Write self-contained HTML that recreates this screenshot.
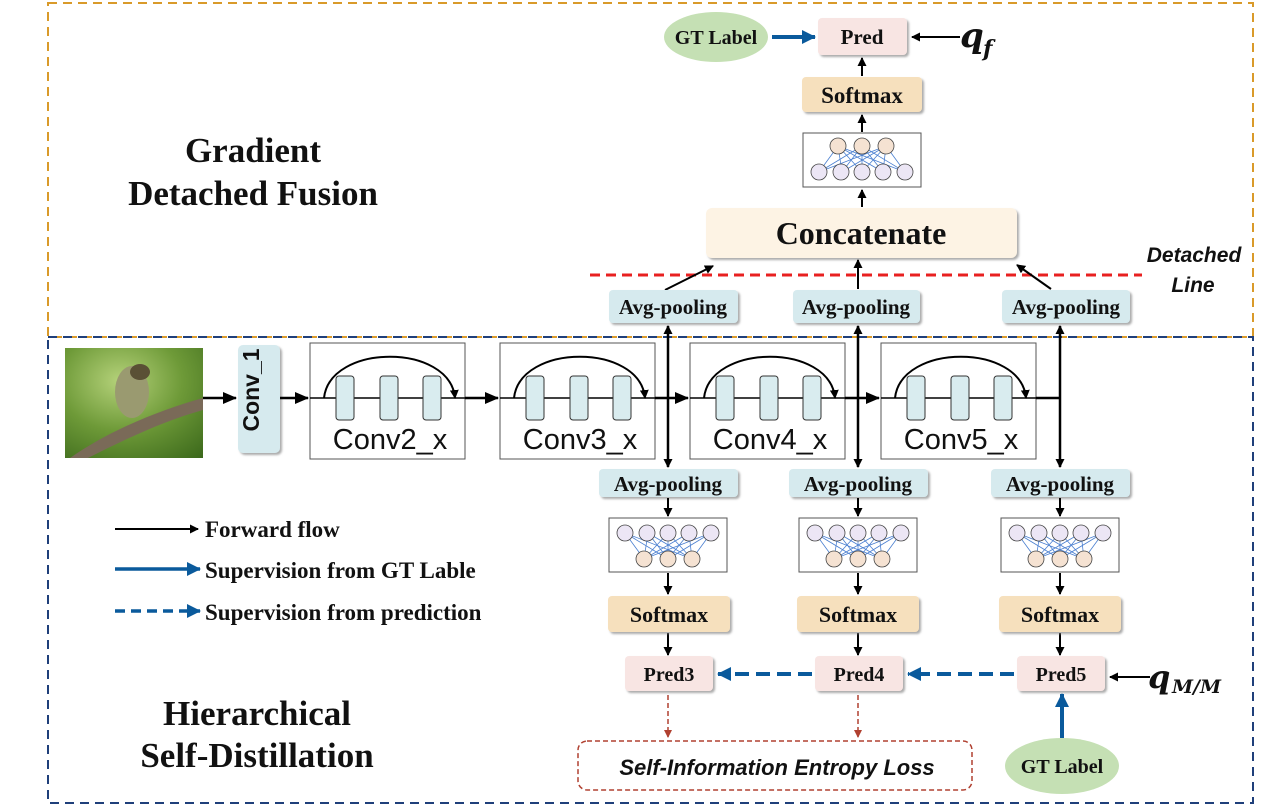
<!DOCTYPE html>
<html><head><meta charset="utf-8"><style>
html,body{margin:0;padding:0;background:#fff;}
svg{display:block;}
.b{font-family:"Liberation Serif",serif;font-weight:bold;fill:#111;}
.s{font-family:"Liberation Sans",sans-serif;fill:#111;}
</style></head><body>
<svg width="1277" height="806" viewBox="0 0 1277 806" xmlns="http://www.w3.org/2000/svg">
<defs>
<marker id="ak" markerWidth="9" markerHeight="9" refX="8" refY="4.5" orient="auto" markerUnits="userSpaceOnUse"><path d="M0,0 L9,4.5 L0,9 z" fill="#000"/></marker>
<marker id="akb" markerWidth="14" markerHeight="12" refX="13" refY="6" orient="auto" markerUnits="userSpaceOnUse"><path d="M0,0 L14,6 L0,12 z" fill="#000"/></marker>
<marker id="ab" markerWidth="14" markerHeight="14" refX="13" refY="7" orient="auto" markerUnits="userSpaceOnUse"><path d="M0,0 L14,7 L0,14 z" fill="#0a5a9c"/></marker>
<marker id="ar" markerWidth="8" markerHeight="8" refX="7" refY="4" orient="auto" markerUnits="userSpaceOnUse"><path d="M0,0 L8,4 L0,8 z" fill="#b04030"/></marker>
<radialGradient id="bg" cx="0.4" cy="0.3" r="0.9"><stop offset="0" stop-color="#b5d27a"/><stop offset="0.5" stop-color="#6e9a38"/><stop offset="1" stop-color="#3d6a1c"/></radialGradient>
<filter id="sh" x="-10%" y="-10%" width="130%" height="140%"><feDropShadow dx="2" dy="2" stdDeviation="1" flood-color="#888" flood-opacity="0.7"/></filter>
<g id="nnb">
<rect x="0" y="0" width="118" height="54" fill="#fff" stroke="#555" stroke-width="1"/>
<g stroke="#4a7fd0" stroke-width="0.8">
<path d="M16,15 L35,41 M16,15 L59,41 M16,15 L83,41 M39,15 L35,41 M39,15 L59,41 M39,15 L83,41 M59,15 L35,41 M59,15 L59,41 M59,15 L83,41 M80,15 L35,41 M80,15 L59,41 M80,15 L83,41 M102,15 L35,41 M102,15 L59,41 M102,15 L83,41"/>
</g>
<g stroke="#444" stroke-width="0.8" fill="#ece6f5"><circle cx="16" cy="15" r="8"/><circle cx="38" cy="15" r="8"/><circle cx="59" cy="15" r="8"/><circle cx="80" cy="15" r="8"/><circle cx="102" cy="15" r="8"/></g>
<g stroke="#444" stroke-width="0.8" fill="#f5e2d2"><circle cx="35" cy="41" r="8"/><circle cx="59" cy="41" r="8"/><circle cx="83" cy="41" r="8"/></g>
</g>
<g id="conv">
<rect x="0" y="0" width="155" height="116" fill="#fff" stroke="#555" stroke-width="1"/>
<line x1="0" y1="55" x2="155" y2="55" stroke="#000" stroke-width="1.5"/>
<rect x="26" y="33" width="18" height="44" rx="3" fill="#d9ecef" stroke="#333"/>
<rect x="70" y="33" width="18" height="44" rx="3" fill="#d9ecef" stroke="#333"/>
<rect x="113" y="33" width="18" height="44" rx="3" fill="#d9ecef" stroke="#333"/>
<path d="M14,55 C20,0 140,0 145,55" fill="none" stroke="#000" stroke-width="2" marker-end="url(#ak)"/>
</g>
</defs>

<rect x="48" y="3" width="1205" height="334" fill="none" stroke="#d99a2a" stroke-width="2" stroke-dasharray="9,6"/>
<rect x="48" y="337" width="1205" height="466" fill="none" stroke="#1f3f7a" stroke-width="2" stroke-dasharray="9,6"/>

<text class="b" x="253" y="162" font-size="35" text-anchor="middle">Gradient</text>
<text class="b" x="253" y="205" font-size="35" text-anchor="middle">Detached Fusion</text>
<text class="b" x="257" y="725" font-size="35" text-anchor="middle">Hierarchical</text>
<text class="b" x="257" y="767" font-size="35" text-anchor="middle">Self-Distillation</text>

<ellipse cx="716" cy="37" rx="52" ry="25" fill="#c5e0b4"/>
<text class="b" x="716" y="44" font-size="20" text-anchor="middle">GT Label</text>
<line x1="772" y1="37" x2="815" y2="37" stroke="#0a5a9c" stroke-width="4" marker-end="url(#ab)"/>
<rect x="818" y="18" width="89" height="37" rx="4" fill="#f8e5e3" filter="url(#sh)"/>
<text class="b" x="862" y="44" font-size="21" text-anchor="middle">Pred</text>
<line x1="960" y1="37" x2="912" y2="37" stroke="#000" stroke-width="2" marker-end="url(#ak)"/>
<text x="960" y="47" font-family="DejaVu Serif,serif" font-style="italic" font-weight="bold" font-size="34" fill="#111">q</text>
<text x="983" y="56" font-family="DejaVu Serif,serif" font-style="italic" font-weight="bold" font-size="22" fill="#111">f</text>
<line x1="862" y1="76" x2="862" y2="58" stroke="#000" stroke-width="2" marker-end="url(#ak)"/>
<rect x="802" y="77" width="120" height="35" rx="4" fill="#f6e0bd" filter="url(#sh)"/>
<text class="b" x="862" y="103" font-size="23" text-anchor="middle">Softmax</text>
<line x1="862" y1="132" x2="862" y2="115" stroke="#000" stroke-width="2" marker-end="url(#ak)"/>
<g transform="translate(803,187) scale(1,-1)"><use href="#nnb"/></g>
<line x1="862" y1="207" x2="862" y2="190" stroke="#000" stroke-width="2" marker-end="url(#ak)"/>
<rect x="706" y="208" width="311" height="50" rx="6" fill="#fdf3e4" filter="url(#sh)"/>
<text class="b" x="861" y="244" font-size="32" text-anchor="middle">Concatenate</text>
<line x1="590" y1="275" x2="1142" y2="275" stroke="#e82020" stroke-width="3" stroke-dasharray="10,6"/>
<text x="1194" y="262" font-family="Liberation Sans,sans-serif" font-style="italic" font-weight="bold" font-size="21" text-anchor="middle" fill="#111">Detached</text>
<text x="1193" y="292" font-family="Liberation Sans,sans-serif" font-style="italic" font-weight="bold" font-size="21" text-anchor="middle" fill="#111">Line</text>
<line x1="665" y1="290" x2="713" y2="266" stroke="#000" stroke-width="2" marker-end="url(#ak)"/>
<line x1="858" y1="289" x2="858" y2="260" stroke="#000" stroke-width="2" marker-end="url(#ak)"/>
<line x1="1051" y1="289" x2="1017" y2="265" stroke="#000" stroke-width="2" marker-end="url(#ak)"/>

<g filter="url(#sh)" fill="#d6eaee">
<rect x="609" y="290" width="129" height="33" rx="4"/>
<rect x="793" y="290" width="127" height="33" rx="4"/>
<rect x="1002" y="290" width="128" height="33" rx="4"/>
<rect x="599" y="469" width="139" height="28" rx="4"/>
<rect x="789" y="469" width="139" height="28" rx="4"/>
<rect x="991" y="469" width="139" height="28" rx="4"/>
</g>
<g class="b" font-size="21" text-anchor="middle">
<text x="673" y="314">Avg-pooling</text>
<text x="856" y="314">Avg-pooling</text>
<text x="1066" y="314">Avg-pooling</text>
<text x="668" y="491">Avg-pooling</text>
<text x="858" y="491">Avg-pooling</text>
<text x="1060" y="491">Avg-pooling</text>
</g>

<rect x="65" y="348" width="138" height="110" fill="url(#bg)"/>
<ellipse cx="132" cy="392" rx="17" ry="26" fill="#9a9a70"/>
<ellipse cx="140" cy="372" rx="10" ry="8" fill="#5a5035"/>
<path d="M70,458 C110,430 160,410 203,398 L203,410 C160,422 120,442 88,458 z" fill="#7a6a58"/>
<line x1="203" y1="398" x2="236" y2="398" stroke="#000" stroke-width="2.5" marker-end="url(#akb)"/>
<rect x="238" y="345" width="42" height="108" rx="5" fill="#d6eaee" filter="url(#sh)"/>
<text x="268" y="399" font-family="Liberation Sans,sans-serif" font-weight="bold" font-size="23" text-anchor="middle" transform="rotate(-90 259 399)" fill="#111">Conv_1</text>
<line x1="280" y1="398" x2="308" y2="398" stroke="#000" stroke-width="2.5" marker-end="url(#akb)"/>
<use href="#conv" x="310" y="343"/>
<line x1="465" y1="398" x2="498" y2="398" stroke="#000" stroke-width="2.5" marker-end="url(#akb)"/>
<use href="#conv" x="500" y="343"/>
<line x1="655" y1="398" x2="688" y2="398" stroke="#000" stroke-width="2.5" marker-end="url(#akb)"/>
<use href="#conv" x="690" y="343"/>
<line x1="845" y1="398" x2="879" y2="398" stroke="#000" stroke-width="2.5" marker-end="url(#akb)"/>
<use href="#conv" x="881" y="343"/>
<line x1="1036" y1="398" x2="1060" y2="398" stroke="#000" stroke-width="2.5"/>
<g class="s" font-size="29" text-anchor="middle">
<text x="390" y="449">Conv2_x</text>
<text x="580" y="449">Conv3_x</text>
<text x="770" y="449">Conv4_x</text>
<text x="961" y="449">Conv5_x</text>
</g>
<g stroke="#000" stroke-width="2.5">
<line x1="668" y1="398" x2="668" y2="326" marker-end="url(#ak)"/>
<line x1="668" y1="398" x2="668" y2="467" marker-end="url(#ak)"/>
<line x1="858" y1="398" x2="858" y2="326" marker-end="url(#ak)"/>
<line x1="858" y1="398" x2="858" y2="467" marker-end="url(#ak)"/>
<line x1="1060" y1="398" x2="1060" y2="326" marker-end="url(#ak)"/>
<line x1="1060" y1="398" x2="1060" y2="467" marker-end="url(#ak)"/>
</g>

<use href="#nnb" x="609" y="518"/>
<use href="#nnb" x="799" y="518"/>
<use href="#nnb" x="1001" y="518"/>
<g stroke="#000" stroke-width="2">
<line x1="668" y1="498" x2="668" y2="516" marker-end="url(#ak)"/>
<line x1="858" y1="498" x2="858" y2="516" marker-end="url(#ak)"/>
<line x1="1060" y1="498" x2="1060" y2="516" marker-end="url(#ak)"/>
<line x1="668" y1="573" x2="668" y2="594" marker-end="url(#ak)"/>
<line x1="858" y1="573" x2="858" y2="594" marker-end="url(#ak)"/>
<line x1="1060" y1="573" x2="1060" y2="594" marker-end="url(#ak)"/>
<line x1="668" y1="633" x2="668" y2="655" marker-end="url(#ak)"/>
<line x1="858" y1="633" x2="858" y2="655" marker-end="url(#ak)"/>
<line x1="1060" y1="633" x2="1060" y2="655" marker-end="url(#ak)"/>
</g>
<g filter="url(#sh)" fill="#f6e0bd">
<rect x="608" y="596" width="122" height="36" rx="4"/>
<rect x="797" y="596" width="122" height="36" rx="4"/>
<rect x="999" y="596" width="122" height="36" rx="4"/>
</g>
<g class="b" font-size="22" text-anchor="middle">
<text x="669" y="622">Softmax</text>
<text x="858" y="622">Softmax</text>
<text x="1060" y="622">Softmax</text>
</g>
<g filter="url(#sh)" fill="#f8e5e3">
<rect x="625" y="656" width="88" height="35" rx="4"/>
<rect x="815" y="656" width="88" height="35" rx="4"/>
<rect x="1017" y="656" width="88" height="35" rx="4"/>
</g>
<g class="b" font-size="20" text-anchor="middle">
<text x="669" y="681">Pred3</text>
<text x="859" y="681">Pred4</text>
<text x="1061" y="681">Pred5</text>
</g>
<g stroke="#0a5a9c" stroke-width="4" stroke-dasharray="14,7">
<line x1="812" y1="674" x2="718" y2="674" marker-end="url(#ab)"/>
<line x1="1014" y1="674" x2="908" y2="674" marker-end="url(#ab)"/>
</g>
<line x1="1150" y1="677" x2="1110" y2="677" stroke="#000" stroke-width="2" marker-end="url(#ak)"/>
<text x="1148" y="688" font-family="DejaVu Serif,serif" font-style="italic" font-weight="bold" font-size="32" fill="#111">q</text>
<text x="1172" y="693" font-family="DejaVu Serif,serif" font-style="italic" font-weight="bold" font-size="19" fill="#111">M/M</text>
<g stroke="#b04030" stroke-width="1.5" stroke-dasharray="5,3">
<line x1="668" y1="695" x2="668" y2="737" marker-end="url(#ar)"/>
<line x1="858" y1="695" x2="858" y2="737" marker-end="url(#ar)"/>
</g>
<rect x="578" y="741" width="394" height="49" rx="9" fill="#fff" stroke="#b04030" stroke-width="1.5" stroke-dasharray="5,3"/>
<text x="777" y="775" font-family="Liberation Sans,sans-serif" font-style="italic" font-weight="bold" font-size="22" text-anchor="middle" fill="#111">Self-Information Entropy Loss</text>
<ellipse cx="1062" cy="766" rx="57" ry="28" fill="#c5e0b4"/>
<text class="b" x="1062" y="773" font-size="20" text-anchor="middle">GT Label</text>
<line x1="1062" y1="738" x2="1062" y2="694" stroke="#0a5a9c" stroke-width="4" marker-end="url(#ab)"/>

<line x1="115" y1="529" x2="198" y2="529" stroke="#000" stroke-width="2" marker-end="url(#ak)"/>
<line x1="115" y1="569" x2="200" y2="569" stroke="#0a5a9c" stroke-width="3.5" marker-end="url(#ab)"/>
<line x1="115" y1="611" x2="200" y2="611" stroke="#0a5a9c" stroke-width="3.5" stroke-dasharray="10,6" marker-end="url(#ab)"/>
<g class="b" font-size="23">
<text x="205" y="537">Forward flow</text>
<text x="205" y="578">Supervision from GT Lable</text>
<text x="205" y="620">Supervision from prediction</text>
</g>
</svg>
</body></html>
